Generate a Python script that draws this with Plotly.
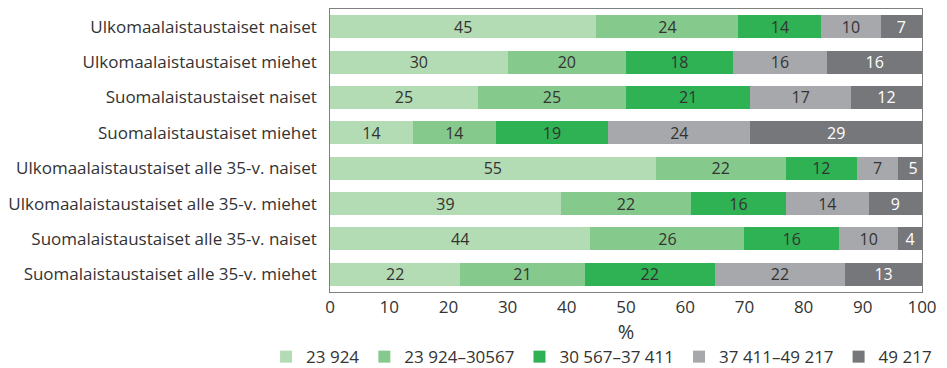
import plotly.graph_objects as go

categories = [
    "Ulkomaalaistaustaiset naiset",
    "Ulkomaalaistaustaiset miehet",
    "Suomalaistaustaiset naiset",
    "Suomalaistaustaiset miehet",
    "Ulkomaalaistaustaiset alle 35-v. naiset",
    "Ulkomaalaistaustaiset alle 35-v. miehet",
    "Suomalaistaustaiset alle 35-v. naiset",
    "Suomalaistaustaiset alle 35-v. miehet",
]
series_names = ["23 924", "23 924\u201330567", "30 567\u201337 411", "37 411\u201349 217", "49 217"]
s1 = [45, 30, 25, 14, 55, 39, 44, 22]
s2 = [24, 20, 25, 14, 22, 22, 26, 21]
s3 = [14, 18, 21, 19, 12, 16, 16, 22]
s4 = [10, 16, 17, 24, 7, 14, 10, 22]
s5 = [7, 16, 12, 29, 5, 9, 4, 13]
x_ticks = [0, 10, 20, 30, 40, 50, 60, 70, 80, 90, 100]

colors = ["#b3dcb4", "#86c98c", "#2fb254", "#a7a8ab", "#76777b"]
text_colors = ["#333333", "#333333", "#333333", "#333333", "#ffffff"]
FONT = "Open Sans"

fig = go.Figure()
for name, vals, c, tc in zip(series_names, [s1, s2, s3, s4, s5], colors, text_colors):
    fig.add_trace(go.Bar(
        y=categories, x=vals, name=name, orientation="h",
        marker=dict(color=c, line=dict(width=0)),
        text=[str(v) for v in vals], textposition="inside",
        insidetextanchor="middle", textangle=0, constraintext="none",
        textfont=dict(color=tc, size=16, family=FONT),
    ))

fig.update_layout(
    barmode="stack", bargap=0.35,
    width=947, height=368,
    margin=dict(l=330, r=25, t=9, b=76, autoexpand=False),
    plot_bgcolor="white", paper_bgcolor="white",
    font=dict(family=FONT, size=17, color="#333333"),
    legend=dict(orientation="h", x=-0.108, xanchor="left", xref="paper",
                y=-0.23, yanchor="middle", yref="paper",
                font=dict(size=17, family=FONT, color="#333333"),
                traceorder="normal", itemclick=False, bgcolor="rgba(0,0,0,0)"),
    showlegend=True,
)
fig.update_xaxes(range=[0, 100], tickvals=x_ticks, ticktext=[str(t) for t in x_ticks],
                 showgrid=False, zeroline=False, showline=True, linecolor="#808080",
                 linewidth=1, mirror=True, ticks="", title=dict(text="%", standoff=0),
                 tickfont=dict(size=17), automargin=False)
fig.update_yaxes(autorange="reversed", showgrid=False, showline=True, linecolor="#808080",
                 linewidth=1, mirror=True, ticks="", ticksuffix="  ", tickfont=dict(size=17),
                 automargin=False)

fig.write_html("out.html", config={"displayModeBar": False},
               post_script="document.body.style.margin='0';")
